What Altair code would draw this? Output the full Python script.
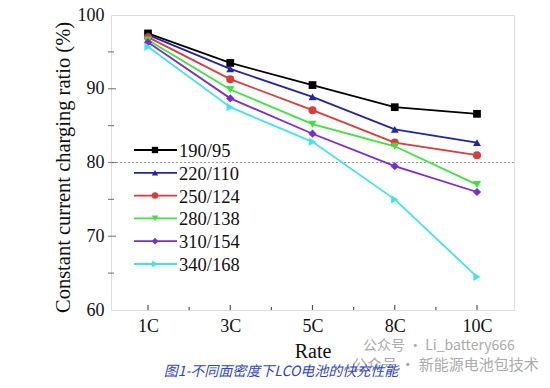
import altair as alt
import pandas as pd

rates = ["1C", "3C", "5C", "8C", "10C"]
series = ["190/95", "220/110", "250/124", "280/138", "310/154", "340/168"]
v_190 = [97.5, 93.5, 90.5, 87.5, 86.6]
v_220 = [97.3, 92.7, 88.9, 84.5, 82.7]
v_250 = [97.0, 91.3, 87.1, 82.7, 81.0]
v_280 = [96.6, 89.9, 85.2, 82.2, 77.0]
v_310 = [96.3, 88.7, 83.9, 79.5, 76.0]
v_340 = [95.7, 87.5, 82.8, 75.0, 64.5]
all_values = [v_190, v_220, v_250, v_280, v_310, v_340]
ref_line = [80]
y_major = [70, 80, 90]
y_minor = [65, 75, 85, 95]
x_major = [0, 1, 2, 3, 4]
x_minor = [0.5, 1.5, 2.5, 3.5]

colors = ["#000000", "#2424a8", "#d83c3c", "#3ee23e", "#7a2ccc", "#44e4e4"]
shapes = ["square", "triangle-up", "circle", "triangle-down", "diamond", "triangle-right"]
sizes = [60, 70, 50, 70, 66, 70]
legend_sizes = [40, 46, 34, 46, 44, 46]

rows = []
for s, vals in zip(series, all_values):
    for i, (r, v) in enumerate(zip(rates, vals)):
        rows.append({"series": s, "rate": r, "xi": i, "value": v})
df = pd.DataFrame(rows)
leg_df = pd.DataFrame({"series": series})

label_expr = "[" + ",".join(f"'{r}'" for r in rates) + "][datum.value]"
SERIF = "Liberation Serif, Times New Roman, serif"
CJK = "Noto Sans CJK SC"
W, H = 403, 295

xscale = alt.Scale(domain=[-0.45, 4.45], nice=False, zero=False)
yscale = alt.Scale(domain=[60, 100], nice=False, zero=False)
color_scale = alt.Scale(domain=series, range=colors)
shape_scale = alt.Scale(domain=series, range=shapes)

x_enc = alt.X("xi:Q", scale=xscale, title="Rate",
              axis=alt.Axis(values=x_major, labelExpr=label_expr, grid=False,
                            ticks=False, domain=False, labelFont=SERIF,
                            labelFontSize=18, labelColor="#111", labelPadding=7,
                            titleFont=SERIF, titleFontSize=20, titleFontWeight="normal",
                            titleColor="#111", titlePadding=6))
y_enc = alt.Y("value:Q", scale=yscale, title="Constant current charging ratio (%)",
              axis=alt.Axis(values=[60, 70, 80, 90, 100], grid=False, ticks=False,
                            domain=False, labelFont=SERIF, labelFontSize=18,
                            labelColor="#111", labelPadding=7, titleFont=SERIF,
                            titleFontSize=20.5, titleFontWeight="normal",
                            titleColor="#111", titlePadding=4, titleY=152))

base = alt.Chart(df)

ref = alt.Chart(pd.DataFrame({"y": ref_line})).mark_rule(
    color="#9a9a9a", strokeDash=[2, 2], strokeWidth=1
).encode(y=alt.Y("y:Q", scale=yscale))

lines = base.mark_line(strokeWidth=1.8).encode(
    x=x_enc, y=y_enc,
    color=alt.Color("series:N", scale=color_scale, legend=None),
    detail="series:N",
)
points = base.mark_point(filled=True, opacity=1).encode(
    x=alt.X("xi:Q", scale=xscale),
    y=alt.Y("value:Q", scale=yscale),
    color=alt.Color("series:N", scale=color_scale, legend=None),
    shape=alt.Shape("series:N", scale=shape_scale, legend=None),
    size=alt.Size("series:N", scale=alt.Scale(domain=series, range=sizes), legend=None),
)

tick_col = "#555"
xt_major = alt.Chart(pd.DataFrame({"t": x_major})).mark_rule(color=tick_col, strokeWidth=1.2).encode(
    x=alt.X("t:Q", scale=xscale), y=alt.value(H), y2=alt.value(H - 5))
xt_minor = alt.Chart(pd.DataFrame({"t": x_minor})).mark_rule(color=tick_col, strokeWidth=1.2).encode(
    x=alt.X("t:Q", scale=xscale), y=alt.value(H), y2=alt.value(H - 3))
yt_major = alt.Chart(pd.DataFrame({"t": y_major})).mark_tick(
    color=tick_col, thickness=1.2, size=8, orient="horizontal").encode(
    y=alt.Y("t:Q", scale=yscale), x=alt.value(1))
yt_minor = alt.Chart(pd.DataFrame({"t": y_minor})).mark_tick(
    color=tick_col, thickness=1.2, size=6, orient="horizontal").encode(
    y=alt.Y("t:Q", scale=yscale), x=alt.value(0))

main = alt.layer(ref, xt_major, xt_minor, yt_major, yt_minor, lines, points)

# in-plot legend (line stub + marker + label), placed through its own point scale
leg_y = alt.Y("series:N", scale=alt.Scale(type="point", domain=series, range=[135, 249],
                                           padding=0), axis=None)
leg_line = alt.Chart(leg_df).mark_rule(strokeWidth=1.8).encode(
    y=leg_y, x=alt.value(23), x2=alt.value(66),
    color=alt.Color("series:N", scale=color_scale, legend=None))
leg_pt = alt.Chart(leg_df).mark_point(filled=True, opacity=1).encode(
    y=leg_y, x=alt.value(44),
    color=alt.Color("series:N", scale=color_scale, legend=None),
    shape=alt.Shape("series:N", scale=shape_scale, legend=None),
    size=alt.Size("series:N", scale=alt.Scale(domain=series, range=legend_sizes), legend=None))
leg_txt = alt.Chart(leg_df).mark_text(
    align="left", baseline="middle", font=SERIF, fontSize=18.5, color="#111", dy=1
).encode(y=leg_y, x=alt.value(68), text="series:N")
legend = alt.layer(leg_line, leg_pt, leg_txt)


def label(text, x, y, **kw):
    return alt.Chart(pd.DataFrame({"t": [text]})).mark_text(**kw).encode(
        text="t:N", x=alt.value(x), y=alt.value(y))


wm1 = label("公众号 · Li_battery666", 252, 331, align="left", baseline="middle",
            font=CJK, fontSize=14, color="#ababab")
wm2 = label("公众号 · 新能源电池包技术", 241, 350, align="left", baseline="middle",
            font=CJK, fontSize=15, color="#ababab")
caption = label("图1-不同面密度下LCO电池的快充性能", 170, 357, align="center",
                baseline="middle", font=CJK, fontSize=14,
                fontStyle="italic", color="#3044c8")
notes = alt.layer(wm1, wm2, caption)

chart = alt.layer(main, legend, notes).resolve_scale(
    y="independent", size="independent"
).properties(
    width=W, height=H,
    autosize=alt.AutoSizeParams(type="none"),
    padding={"left": 103, "top": 7, "right": 28, "bottom": 70},
).configure_view(stroke="#666", strokeWidth=1.5).configure(background="white")

chart.save("out.html", embed_options={"renderer": "svg", "actions": False})
